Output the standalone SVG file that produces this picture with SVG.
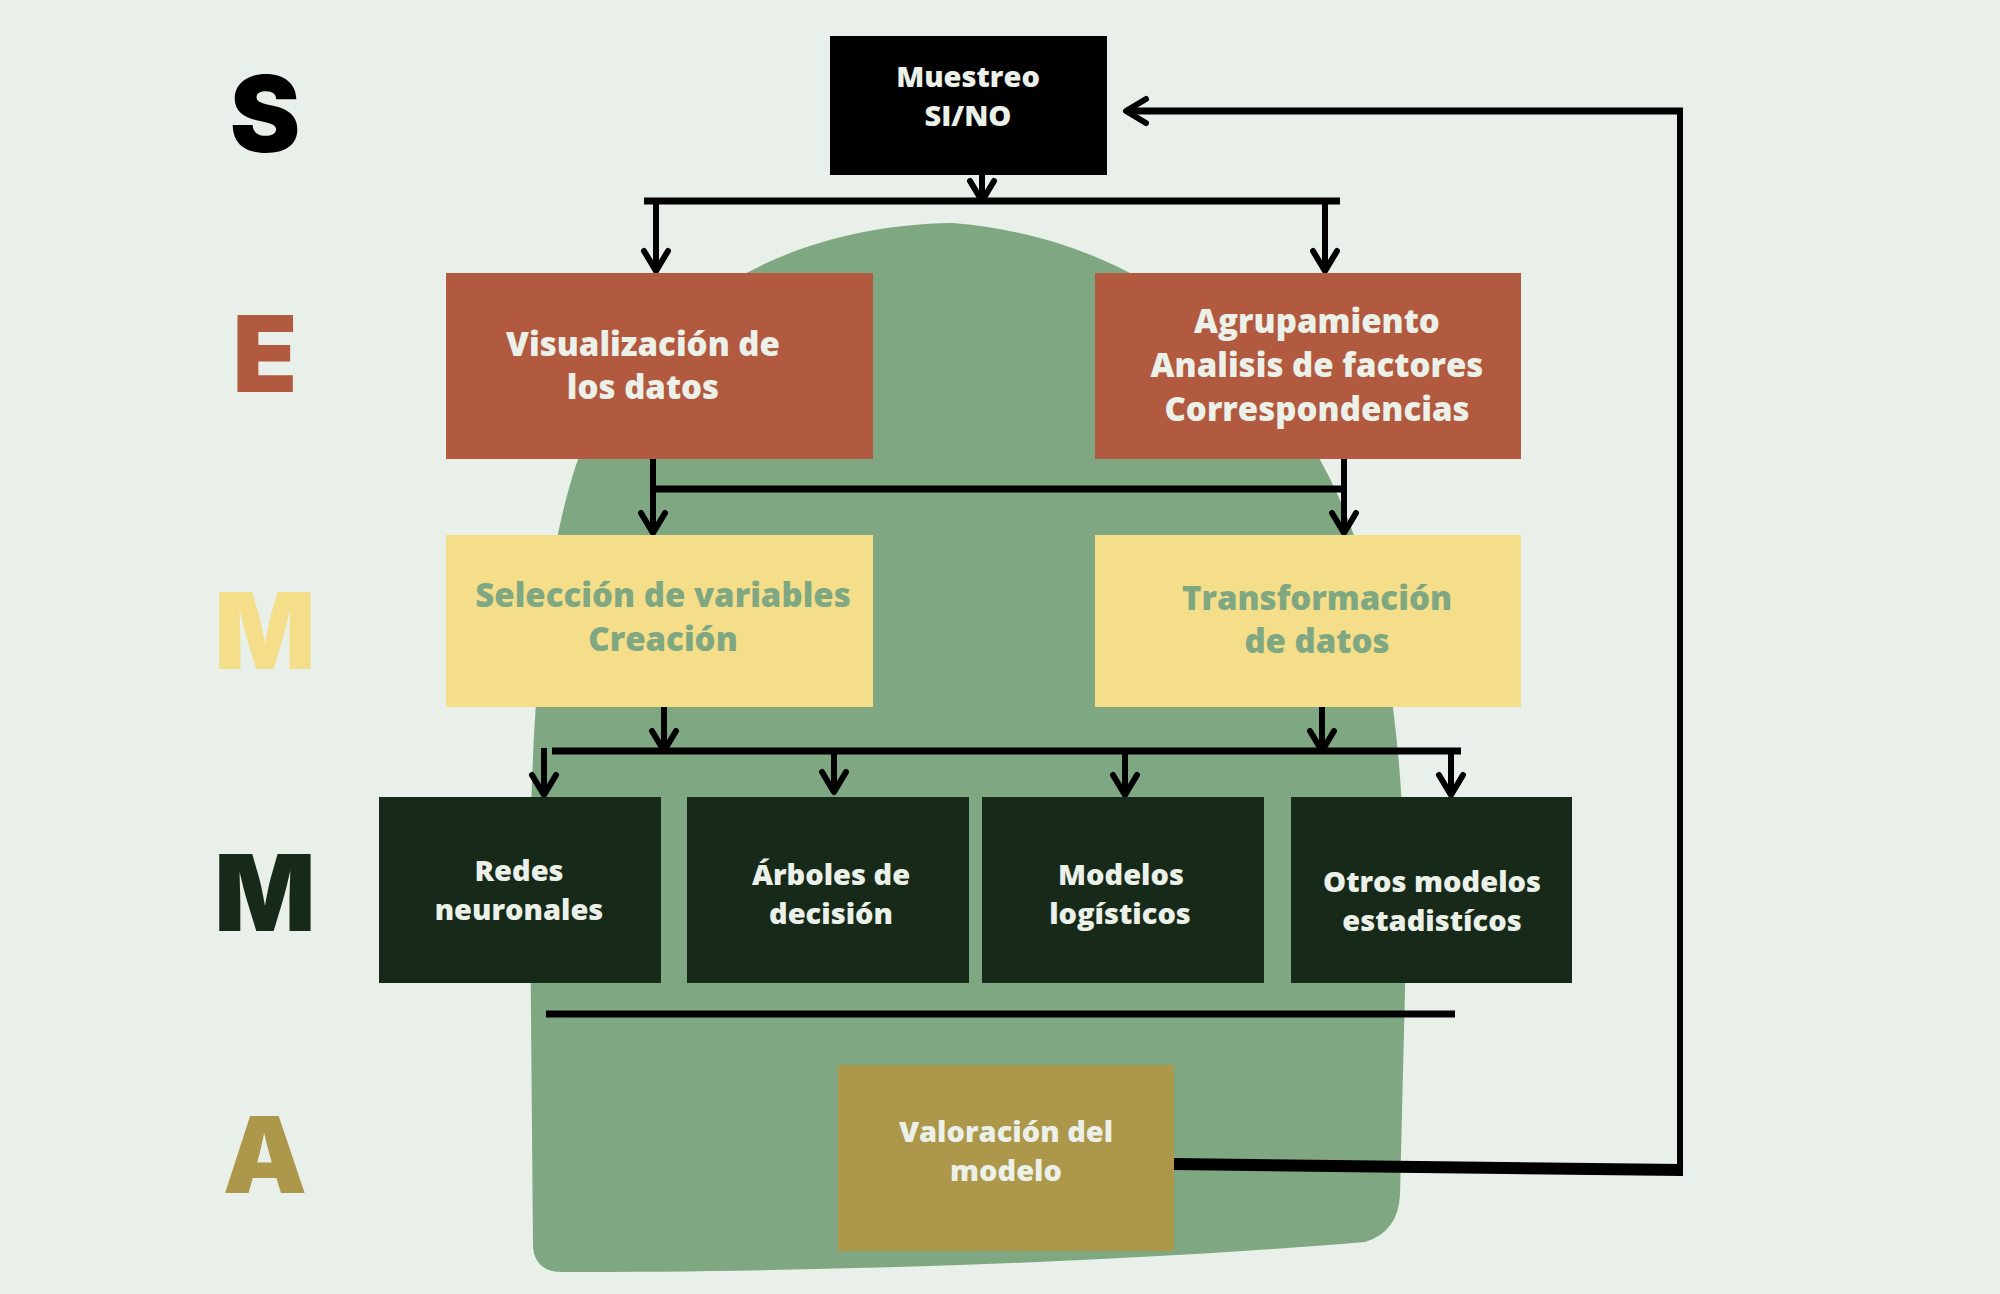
<svg xmlns="http://www.w3.org/2000/svg" width="2000" height="1294" viewBox="0 0 2000 1294">
<defs>
<style>
.t{font-family:"Open Sans","Noto Sans","Liberation Sans",sans-serif;font-weight:800;text-anchor:middle;fill:#EBF0E8}
.ty{fill:#7FA781}
.big{font-family:Inter,"Liberation Sans",sans-serif;font-weight:900;text-anchor:middle;font-size:106px}
.ln{stroke:#000;stroke-width:6;fill:none}
.bus{stroke:#000;stroke-width:7;fill:none}
</style>
<marker id="ah" markerUnits="userSpaceOnUse" viewBox="-26 -20 30 40" markerWidth="30" markerHeight="40" refX="0" refY="0" orient="auto">
<path d="M -20 -12 L 0 0 L -20 12" fill="none" stroke="#000" stroke-width="6" stroke-linecap="round" stroke-linejoin="round"/>
</marker>
</defs>
<rect x="0" y="0" width="2000" height="1294" fill="#E9F0E9"/>
<path id="blob" d="M 952 223 C 760 226 625 330 576 465 C 545 560 530 700 530 900 L 533 1248 Q 536 1272 562 1272 C 800 1272 1100 1264 1365 1242 Q 1398 1232 1400 1195 L 1405 990 C 1408 800 1396 650 1352 530 C 1302 390 1170 240 952 223 Z" fill="#7FA781"/>

<g id="letters">
<text class="big" x="265" y="152" fill="#000">S</text>
<text class="big" x="265" y="392" fill="#B25A3F">E</text>
<text class="big" x="265" y="669" fill="#F4DE8A">M</text>
<text class="big" x="265" y="931" fill="#172A19">M</text>
<text class="big" x="265" y="1193" fill="#AD974A">A</text>
</g>

<g id="connectors">
<line class="ln" x1="982" y1="175" x2="982" y2="201" marker-end="url(#ah)"/>
<line class="bus" x1="644" y1="201" x2="1340" y2="201"/>
<line class="ln" x1="656" y1="201" x2="656" y2="271" marker-end="url(#ah)"/>
<line class="ln" x1="1325" y1="201" x2="1325" y2="271" marker-end="url(#ah)"/>
<line class="ln" x1="653" y1="459" x2="653" y2="533" marker-end="url(#ah)"/>
<line class="bus" x1="653" y1="489" x2="1344" y2="489"/>
<line class="ln" x1="1344" y1="459" x2="1344" y2="533" marker-end="url(#ah)"/>
<line class="ln" x1="664" y1="707" x2="664" y2="751" marker-end="url(#ah)"/>
<line class="ln" x1="1322" y1="707" x2="1322" y2="751" marker-end="url(#ah)"/>
<line class="bus" x1="552" y1="751" x2="1461" y2="751"/>
<line class="ln" x1="544" y1="748" x2="544" y2="795" marker-end="url(#ah)"/>
<line class="ln" x1="834" y1="751" x2="834" y2="792" marker-end="url(#ah)"/>
<line class="ln" x1="1125" y1="751" x2="1125" y2="795" marker-end="url(#ah)"/>
<line class="ln" x1="1451" y1="753" x2="1451" y2="795" marker-end="url(#ah)"/>
<line class="bus" x1="546" y1="1014" x2="1455" y2="1014" stroke-width="8"/>
<line x1="1174" y1="1164" x2="1683" y2="1170" stroke="#000" stroke-width="12"/>
<line class="ln" x1="1680" y1="109" x2="1680" y2="1176"/>
<line class="bus" x1="1683" y1="111" x2="1126" y2="111" marker-end="url(#ah)"/>
</g>

<g id="muestreo">
<rect x="830" y="36" width="277" height="139" fill="#000"/>
<text class="t" x="968" y="87" font-size="29">Muestreo</text>
<text class="t" x="968" y="126" font-size="29">SI/NO</text>
</g>
<g id="visualizacion">
<rect x="446" y="273" width="427" height="186" fill="#B25A3F"/>
<text class="t" x="643" y="356" font-size="33">Visualización de</text>
<text class="t" x="643" y="399" font-size="33">los datos</text>
</g>
<g id="agrupamiento">
<rect x="1095" y="273" width="426" height="186" fill="#B25A3F"/>
<text class="t" x="1317" y="333" font-size="33">Agrupamiento</text>
<text class="t" x="1317" y="377" font-size="33">Analisis de factores</text>
<text class="t" x="1317" y="421" font-size="33">Correspondencias</text>
</g>
<g id="seleccion">
<rect x="446" y="535" width="427" height="172" fill="#F4DE8A"/>
<text class="t ty" x="663" y="607" font-size="33">Selección de variables</text>
<text class="t ty" x="663" y="651" font-size="33">Creación</text>
</g>
<g id="transformacion">
<rect x="1095" y="535" width="426" height="172" fill="#F4DE8A"/>
<text class="t ty" x="1317" y="610" font-size="33">Transformación</text>
<text class="t ty" x="1317" y="653" font-size="33">de datos</text>
</g>
<g id="redes">
<rect x="379" y="797" width="282" height="186" fill="#172A19"/>
<text class="t" x="519" y="881" font-size="29">Redes</text>
<text class="t" x="519" y="920" font-size="29">neuronales</text>
</g>
<g id="arboles">
<rect x="687" y="797" width="282" height="186" fill="#172A19"/>
<text class="t" x="831" y="885" font-size="29">Árboles de</text>
<text class="t" x="831" y="924" font-size="29">decisión</text>
</g>
<g id="logisticos">
<rect x="982" y="797" width="282" height="186" fill="#172A19"/>
<text class="t" x="1121" y="885" font-size="29">Modelos</text>
<text class="t" x="1120" y="924" font-size="29">logísticos</text>
</g>
<g id="otros">
<rect x="1291" y="797" width="281" height="186" fill="#172A19"/>
<text class="t" x="1432" y="892" font-size="29">Otros modelos</text>
<text class="t" x="1432" y="931" font-size="29">estadistícos</text>
</g>
<g id="valoracion">
<rect x="838" y="1065" width="336" height="186" fill="#AD974A"/>
<text class="t" x="1006" y="1142" font-size="29">Valoración del</text>
<text class="t" x="1006" y="1181" font-size="29">modelo</text>
</g>
</svg>
